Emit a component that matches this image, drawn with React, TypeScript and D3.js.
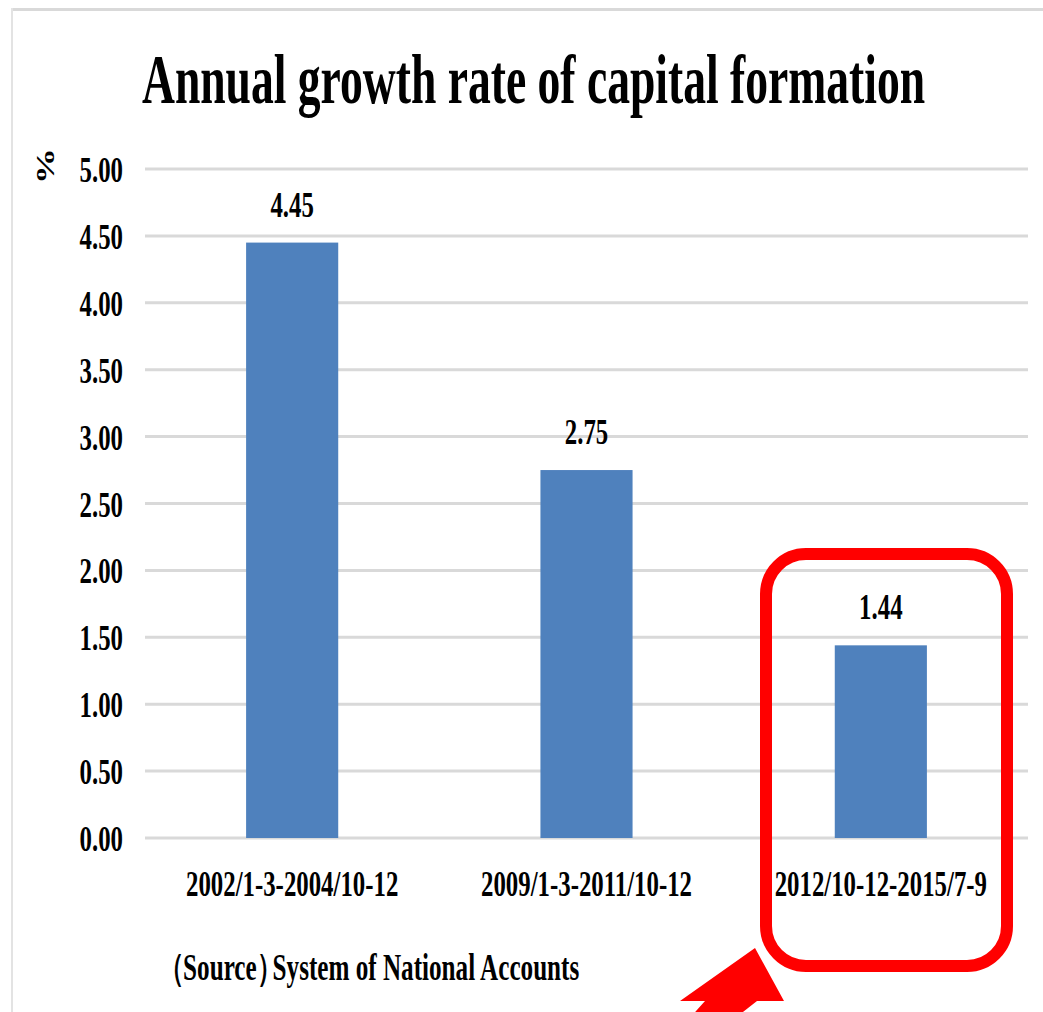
import React from "react";
import * as d3 from "d3";

const categories = ["2002/1-3-2004/10-12", "2009/1-3-2011/10-12", "2012/10-12-2015/7-9"];
const values = [4.45, 2.75, 1.44];
const yTicks = [0, 0.5, 1, 1.5, 2, 2.5, 3, 3.5, 4, 4.5, 5];
const title = "Annual growth rate of capital formation";
const yUnit = "%";
const sourceParts = ["（", "Source", "）", "System of National Accounts"];

const FONT = "'Liberation Serif', 'Times New Roman', serif";
const SX = 0.69;

function SText(props: {
  x: number; y: number; size: number; anchor?: string; children: any; sx?: number;
}) {
  const { x, y, size, anchor = "middle", children, sx = SX } = props;
  return (
    <text
      transform={`translate(${x},${y}) scale(${sx},1)`}
      textAnchor={anchor}
      fontFamily={FONT}
      fontWeight="bold"
      fontSize={size}
      fill="#000"
    >
      {children}
    </text>
  );
}

export default function App() {
  const W = 1043, H = 1012;
  const left = 145, right = 1028;
  const x = d3.scaleBand<string>().domain(categories).range([left, right]).paddingInner(0.687).paddingOuter(0.3435);
  const y = d3.scaleLinear().domain([0, 5]).range([838, 169]);

  return (
    <svg width={W} height={H} style={{ position: "absolute", left: 0, top: 0, background: "#fff" }}>
      <rect x={0} y={0} width={W} height={H} fill="#fff" />
      {/* outer border */}
      <line x1={11} x2={W} y1={9.5} y2={9.5} stroke="#D9D9D9" strokeWidth={3} />
      <line x1={12} x2={12} y1={8} y2={H} stroke="#E3E3E3" strokeWidth={2} />

      {/* title */}
      <SText x={533.5} y={103} size={69} sx={0.661}>{title}</SText>

      {/* gridlines */}
      {yTicks.map((t) => (
        <line key={t} x1={left} x2={right} y1={y(t)} y2={y(t)} stroke="#D9D9D9" strokeWidth={3} />
      ))}

      {/* y tick labels */}
      {yTicks.map((t) => (
        <SText key={"l" + t} x={123} y={y(t) + 13} size={36} anchor="end">{d3.format(".2f")(t)}</SText>
      ))}

      {/* y unit */}
      <text
        transform={`translate(45,166) scale(0.7,1) rotate(-90)`}
        textAnchor="middle"
        dominantBaseline="central"
        fontFamily={FONT}
        fontWeight="bold"
        fontSize={36}
      >{yUnit}</text>

      {/* bars */}
      {categories.map((c, i) => (
        <rect key={c} x={x(c)} y={y(values[i])} width={x.bandwidth()} height={y(0) - y(values[i])} fill="#4F81BD" />
      ))}

      {/* value labels */}
      {categories.map((c, i) => (
        <SText key={"v" + c} x={(x(c) as number) + x.bandwidth() / 2} y={y(values[i]) - 26} size={36}>
          {d3.format(".2f")(values[i])}
        </SText>
      ))}

      {/* category labels */}
      {categories.map((c) => (
        <SText key={"c" + c} x={(x(c) as number) + x.bandwidth() / 2} y={896} size={36}>{c}</SText>
      ))}

      {/* source */}
      <text transform="translate(159,980) scale(0.68,1)" fontFamily={FONT} fontWeight="bold" fontSize={37}>
        <tspan>{sourceParts[0]}</tspan>
        <tspan dx={-2}>{sourceParts[1]}</tspan>
        <tspan>{sourceParts[2]}</tspan>
        <tspan dx={-14}>{sourceParts[3]}</tspan>
      </text>

      {/* highlight */}
      <rect x={766} y={554} width={241} height={412} rx={40} ry={40} fill="none" stroke="#FF0000" strokeWidth={12} />
      <polygon
        points="755,948 784,1001 757,1001 720,1030 679,1030 705,1001 680,1001"
        fill="#FF0000"
      />
    </svg>
  );
}
